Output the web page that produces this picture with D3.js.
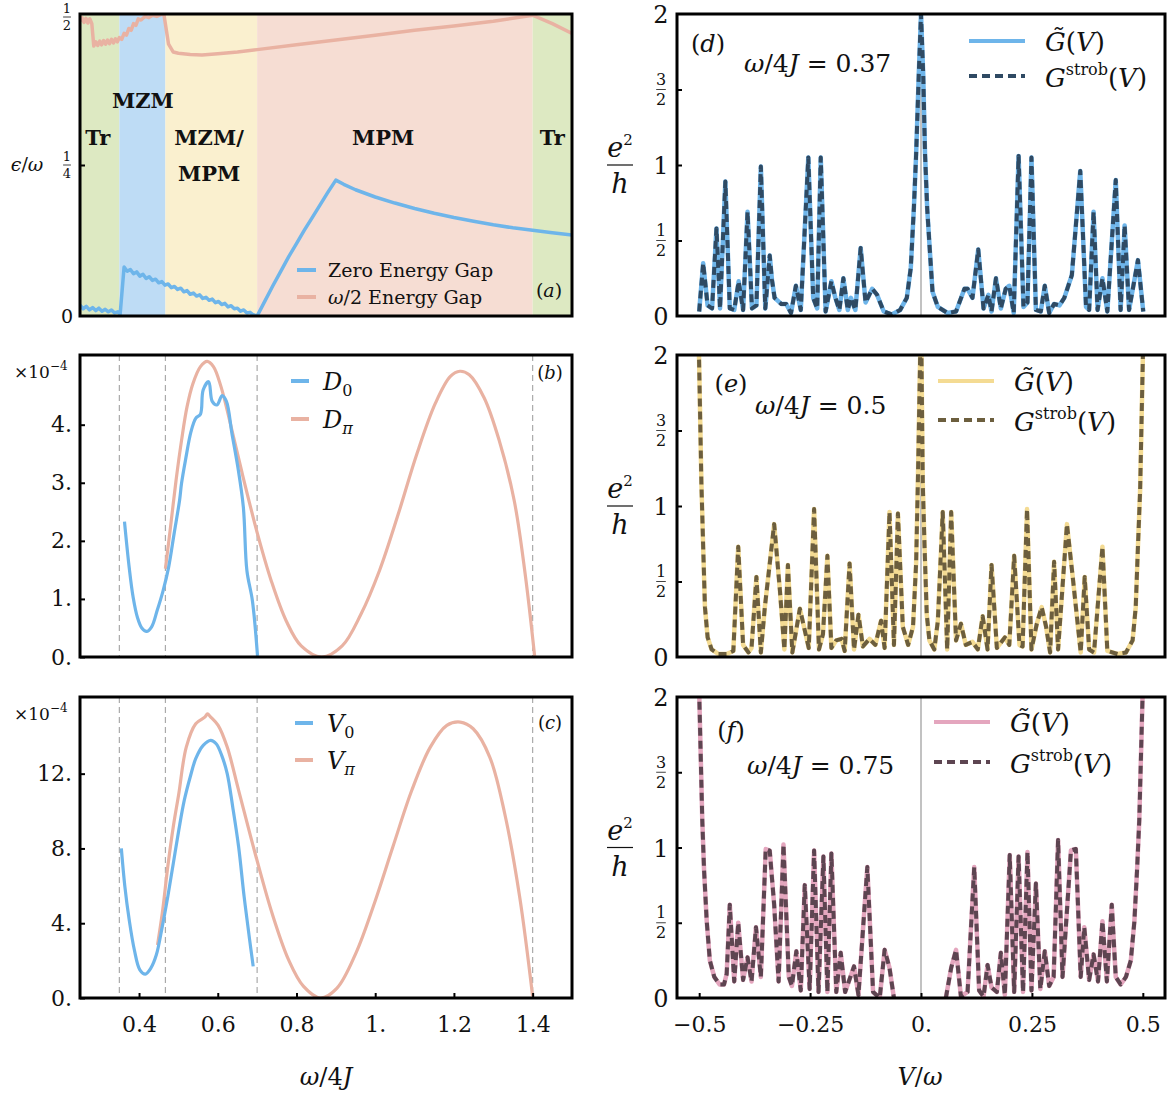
<!DOCTYPE html>
<html>
<head>
<meta charset="utf-8">
<script src="https://cdn.jsdelivr.net/npm/d3@7"></script>
<style>
  body { margin: 0; background: #fff; }
  svg { display: block; }
  text { font-family: "DejaVu Serif", serif; fill: #111; white-space: pre; }
</style>
</head>
<body>
<div id="chart"></div>
<script>
// ---- (a) phase diagram ----
const phaseEdges = [0.25, 0.35, 0.467, 0.7, 1.4, 1.5];
const phaseLabels = [["Tr"], ["MZM"], ["MZM/", "MPM"], ["MPM"], ["Tr"]];
const phaseLabelX = [0.295, 0.41, 0.578, 1.02, 1.45];
const phaseLabelY = [0.296, 0.358, 0.296, 0.296, 0.296];

const zeroGapX = [0.25, 0.258, 0.266, 0.274, 0.282, 0.29, 0.298, 0.306, 0.314, 0.322, 0.33, 0.338, 0.346, 0.352,
  0.362, 0.37, 0.378, 0.386, 0.394, 0.402, 0.41, 0.418, 0.426, 0.434, 0.442, 0.45, 0.458, 0.466, 0.474, 0.482,
  0.49, 0.498, 0.506, 0.514, 0.522, 0.53, 0.538, 0.546, 0.554, 0.562, 0.57, 0.578, 0.586, 0.594, 0.602, 0.61,
  0.618, 0.626, 0.634, 0.642, 0.65, 0.658, 0.666, 0.674, 0.682, 0.69, 0.7,
  0.72, 0.74, 0.76, 0.78, 0.8, 0.82, 0.84, 0.86, 0.88, 0.9, 0.92, 0.95, 1.0, 1.05, 1.1, 1.15, 1.2, 1.25, 1.3,
  1.35, 1.4, 1.45, 1.5];
const zeroGapY = [0.018, 0.012, 0.016, 0.01, 0.014, 0.009, 0.013, 0.008, 0.011, 0.007, 0.01, 0.005, 0.007, 0.003,
  0.081, 0.074, 0.077, 0.07, 0.073, 0.066, 0.069, 0.062, 0.065, 0.059, 0.061, 0.055, 0.057, 0.051, 0.053, 0.047,
  0.049, 0.044, 0.046, 0.04, 0.042, 0.036, 0.038, 0.033, 0.035, 0.029, 0.031, 0.026, 0.028, 0.022, 0.024, 0.019,
  0.021, 0.015, 0.017, 0.012, 0.013, 0.008, 0.01, 0.005, 0.006, 0.002, 0.0,
  0.025, 0.05, 0.074, 0.098, 0.12, 0.142, 0.163, 0.184, 0.205, 0.225, 0.218, 0.209, 0.197, 0.187, 0.178, 0.17,
  0.163, 0.157, 0.151, 0.146, 0.142, 0.138, 0.134];

const halfGapX = [0.25, 0.255, 0.26, 0.265, 0.27, 0.275, 0.28, 0.285, 0.29, 0.295, 0.3, 0.305, 0.31, 0.315, 0.32,
  0.325, 0.33, 0.335, 0.34, 0.345, 0.35, 0.356, 0.362, 0.368, 0.374, 0.38, 0.386, 0.392, 0.398, 0.405, 0.415,
  0.425, 0.435, 0.445, 0.455, 0.463, 0.475, 0.487, 0.5, 0.53, 0.56, 0.6, 0.65, 0.7, 0.8, 0.9, 1.0, 1.1, 1.2,
  1.3, 1.4, 1.45, 1.5];
const halfGapY = [0.488, 0.494, 0.486, 0.493, 0.485, 0.492, 0.484, 0.447, 0.454, 0.448, 0.455, 0.449, 0.456, 0.45,
  0.457, 0.451, 0.458, 0.452, 0.459, 0.454, 0.461, 0.458, 0.468, 0.465, 0.476, 0.473, 0.484, 0.481, 0.492, 0.49,
  0.496, 0.494, 0.498, 0.496, 0.499, 0.5, 0.45, 0.437, 0.435, 0.433, 0.432, 0.434, 0.437, 0.441, 0.449, 0.457,
  0.465, 0.473, 0.48, 0.488, 0.498, 0.484, 0.468];

// ---- (b) D0 / Dpi (x1e-4) ----
const d0X = [0.363, 0.375, 0.385, 0.396, 0.407, 0.419, 0.432, 0.446, 0.461, 0.475, 0.489, 0.503, 0.508, 0.518,
  0.532, 0.544, 0.556, 0.563, 0.577, 0.586, 0.598, 0.611, 0.622, 0.636, 0.651, 0.665, 0.674, 0.688, 0.701];
const d0Y = [2.33, 1.54, 1.03, 0.68, 0.5, 0.44, 0.52, 0.8, 1.14, 1.54, 2.12, 2.7, 2.99, 3.39,
  3.88, 4.11, 4.18, 4.6, 4.74, 4.4, 4.34, 4.5, 4.4, 3.85, 3.27, 2.58, 1.49, 0.97, 0.02];
const dPiX = [0.467, 0.48, 0.494, 0.508, 0.522, 0.537, 0.556, 0.573, 0.589, 0.608, 0.632, 0.66, 0.701, 0.736,
  0.774, 0.812, 0.864, 0.916, 0.964, 1.011, 1.059, 1.106, 1.153, 1.191, 1.215, 1.239, 1.277, 1.315, 1.353,
  1.381, 1.405];
const dPiY = [1.52, 2.24, 3.04, 3.73, 4.31, 4.71, 5.0, 5.09, 5.0, 4.66, 4.02, 3.22, 2.12, 1.31,
  0.62, 0.19, 0.0, 0.19, 0.74, 1.49, 2.47, 3.5, 4.37, 4.83, 4.92, 4.86, 4.46, 3.73, 2.7,
  1.43, 0.02];

// ---- (c) V0 / Vpi (x1e-4) ----
const v0X = [0.355, 0.364, 0.375, 0.388, 0.402, 0.416, 0.43, 0.444, 0.459, 0.473, 0.487, 0.501, 0.515, 0.53,
  0.544, 0.563, 0.582, 0.596, 0.61, 0.624, 0.638, 0.653, 0.667, 0.681, 0.69];
const v0Y = [8.0, 5.96, 4.18, 2.58, 1.51, 1.28, 1.6, 2.31, 3.82, 5.42, 7.2, 8.98, 10.58, 11.82,
  12.8, 13.51, 13.78, 13.6, 12.98, 12.0, 10.22, 8.09, 5.42, 3.11, 1.69];
const vPiX = [0.447, 0.459, 0.473, 0.487, 0.501, 0.52, 0.544, 0.567, 0.574, 0.581, 0.601, 0.624, 0.653, 0.695,
  0.738, 0.78, 0.818, 0.861, 0.903, 0.951, 0.998, 1.045, 1.093, 1.14, 1.182, 1.216, 1.249, 1.291, 1.329,
  1.367, 1.4];
const vPiY = [2.84, 4.53, 7.02, 9.16, 10.93, 13.42, 14.67, 15.02, 15.2, 15.05, 14.58, 13.42, 11.11, 7.73,
  4.53, 2.04, 0.62, 0.0, 0.53, 2.4, 5.07, 8.09, 11.11, 13.42, 14.58, 14.76, 14.4, 12.89, 9.87,
  5.42, 0.09];

const phaseLines = [0.35, 0.467, 0.7, 1.4];
const omegaTicks = [0.4, 0.6, 0.8, 1, 1.2, 1.4];
const omegaTickLabels = ["0.4", "0.6", "0.8", "1.", "1.2", "1.4"];
const dTicks = [0, 1, 2, 3, 4];
const vTicks = [0, 4, 8, 12];

// ---- (d) w/4J = 0.37 ----
const dV = [-0.5, -0.491, -0.481, -0.471, -0.461, -0.453, -0.441, -0.431, -0.421, -0.411, -0.401, -0.391, -0.381,
  -0.371, -0.361, -0.351, -0.341, -0.336, -0.33, -0.315, -0.304, -0.293, -0.282, -0.271, -0.254, -0.243, -0.234,
  -0.226, -0.215, -0.202, -0.193, -0.184, -0.175, -0.165, -0.158, -0.148, -0.136, -0.125, -0.11, -0.099, -0.084,
  -0.066, -0.047, -0.032, -0.023, -0.016, -0.011, -0.005, 0, 0.005, 0.009, 0.014, 0.02, 0.026, 0.038, 0.06,
  0.079, 0.098, 0.105, 0.116, 0.129, 0.141, 0.152, 0.159, 0.169, 0.18, 0.191, 0.199, 0.209, 0.22, 0.231, 0.24,
  0.249, 0.259, 0.27, 0.279, 0.289, 0.3, 0.312, 0.323, 0.332, 0.34, 0.359, 0.372, 0.379, 0.389, 0.398, 0.409,
  0.42, 0.439, 0.45, 0.459, 0.469, 0.489, 0.501];
const dG = [0.03, 0.35, 0.07, 0.05, 0.58, 0.05, 0.89, 0.05, 0.04, 0.23, 0.04, 0.69, 0.05,
  0.07, 0.99, 0.05, 0.4, 0.24, 0.12, 0.08, 0.08, 0.02, 0.2, 0.04, 1.05, 0.12, 0.05,
  1.05, 0.03, 0.23, 0.12, 0.04, 0.25, 0.04, 0.12, 0.04, 0.45, 0.09, 0.18, 0.14, 0.03,
  0.01, 0.04, 0.12, 0.32, 0.72, 1.07, 1.6, 2.0, 1.6, 1.08, 0.71, 0.43, 0.16, 0.06, 0.02,
  0.03, 0.18, 0.18, 0.12, 0.44, 0.05, 0.14, 0.03, 0.25, 0.05, 0.18, 0.2, 0.02, 1.06, 0.06, 0.09,
  1.05, 0.04, 0.03, 0.2, 0.02, 0.08, 0.07, 0.12, 0.2, 0.27, 0.96, 0.06, 0.04, 0.69, 0.04, 0.25,
  0.03, 0.9, 0.04, 0.6, 0.04, 0.37, 0.03];

// ---- (e) w/4J = 0.5 ----
const eV = [-0.503, -0.495, -0.491, -0.487, -0.481, -0.472, -0.457, -0.438, -0.423, -0.412, -0.401, -0.389, -0.382,
  -0.371, -0.361, -0.352, -0.331, -0.318, -0.308, -0.3, -0.29, -0.273, -0.253, -0.241, -0.23, -0.221, -0.211,
  -0.202, -0.191, -0.179, -0.172, -0.161, -0.151, -0.141, -0.131, -0.116, -0.103, -0.09, -0.082, -0.071, -0.061,
  -0.052, -0.041, -0.029, -0.018, -0.011, -0.007, 0, 0.004, 0.008, 0.013, 0.019, 0.03, 0.038, 0.049, 0.059,
  0.068, 0.079, 0.09, 0.101, 0.116, 0.128, 0.139, 0.15, 0.159, 0.171, 0.189, 0.199, 0.21, 0.222, 0.229, 0.239,
  0.249, 0.261, 0.272, 0.282, 0.291, 0.3, 0.309, 0.329, 0.342, 0.36, 0.369, 0.379, 0.39, 0.409, 0.42, 0.443,
  0.462, 0.477, 0.484, 0.489, 0.494, 0.503];
const eG = [2.4, 1.15, 0.73, 0.33, 0.13, 0.05, 0.02, 0.02, 0.04, 0.73, 0.08, 0.03, 0.06,
  0.53, 0.03, 0.33, 0.88, 0.44, 0.05, 0.61, 0.03, 0.32, 0.06, 0.98, 0.05, 0.15, 0.67,
  0.06, 0.11, 0.12, 0.04, 0.62, 0.05, 0.28, 0.07, 0.12, 0.08, 0.24, 0.06, 0.96, 0.08,
  0.95, 0.2, 0.08, 0.2, 0.62, 1.17, 2.3, 1.15, 0.73, 0.28, 0.11, 0.05, 0.24, 0.96, 0.05,
  0.96, 0.11, 0.22, 0.08, 0.1, 0.05, 0.27, 0.05, 0.61, 0.06, 0.13, 0.08, 0.67, 0.08, 0.07, 0.98,
  0.05, 0.22, 0.33, 0.2, 0.03, 0.63, 0.05, 0.88, 0.53, 0.03, 0.53, 0.05, 0.03, 0.73, 0.04, 0.02,
  0.03, 0.11, 0.33, 0.73, 1.11, 2.4];

// ---- (f) w/4J = 0.75 (null = below the axis) ----
const fV = [-0.503, -0.493, -0.489, -0.483, -0.476, -0.466, -0.454, -0.444, -0.438, -0.431, -0.421, -0.412, -0.401,
  -0.391, -0.382, -0.372, -0.361, -0.35, -0.341, -0.331, -0.321, -0.31, -0.298, -0.291, -0.281, -0.271, -0.262,
  -0.251, -0.241, -0.231, -0.22, -0.211, -0.202, -0.191, -0.181, -0.171, -0.151, -0.141, -0.121, -0.108, -0.093,
  -0.082, -0.071, -0.061, 0, 0.056, 0.068, 0.079, 0.09, 0.105, 0.12, 0.131, 0.141, 0.15, 0.159, 0.171, 0.18,
  0.189, 0.2, 0.21, 0.22, 0.23, 0.24, 0.249, 0.259, 0.269, 0.279, 0.289, 0.299, 0.309, 0.319, 0.338, 0.349,
  0.36, 0.368, 0.379, 0.389, 0.399, 0.409, 0.419, 0.43, 0.439, 0.45, 0.462, 0.473, 0.481, 0.487, 0.492, 0.503];
const fG = [2.4, 1.18, 0.85, 0.51, 0.25, 0.14, 0.09, 0.09, 0.16, 0.62, 0.11, 0.5, 0.12,
  0.27, 0.11, 0.47, 0.14, 0.99, 0.98, 0.62, 0.11, 1.02, 0.14, 0.08, 0.31, 0.05, 0.75,
  0.06, 0.98, 0.04, 0.94, 0.04, 0.96, 0.04, 0.3, 0.04, 0.21, 0.02, 0.87, 0.04, 0.0,
  0.32, 0.2, 0.0, null, 0.0, 0.2, 0.32, 0.01, 0.04, 0.87, 0.05, 0.01, 0.22, 0.07, 0.04, 0.3,
  0.02, 0.95, 0.04, 0.94, 0.04, 0.97, 0.05, 0.76, 0.06, 0.31, 0.08, 0.14, 1.05, 0.14, 0.98, 0.99,
  0.14, 0.47, 0.12, 0.29, 0.11, 0.51, 0.11, 0.62, 0.14, 0.09, 0.14, 0.25, 0.51, 0.85, 1.18, 2.4];

const biasTicks = [-0.5, -0.25, 0, 0.25, 0.5];
const biasTickLabels = ["\u22120.5", "\u22120.25", "0.", "0.25", "0.5"];
const condTicks = [0.5, 1, 1.5];

// ---- layout ----
const W = 1172, H = 1098;
const leftCol = [80, 572], rightCol = [677, 1165];
const rows = [[14, 316], [355, 657], [697, 998]];

const phaseFill = ["#dde9c2", "#bedcf5", "#faf0cf", "#f6ddd3", "#dde9c2"];
const blue = "#6eb5ea", salmon = "#e9b2a2";
const smooth = d3.curveCatmullRom.alpha(0.5);

const svg = d3.select("#chart").append("svg").attr("width", W).attr("height", H);

function makePanel(xr, yr, xDom, yDom, id) {
  const x = d3.scaleLinear().domain(xDom).range(xr);
  const y = d3.scaleLinear().domain(yDom).range([yr[1], yr[0]]);
  svg.append("clipPath").attr("id", id).append("rect")
    .attr("x", xr[0]).attr("y", yr[0]).attr("width", xr[1] - xr[0]).attr("height", yr[1] - yr[0]);
  const g = svg.append("g");
  const plot = g.append("g").attr("clip-path", `url(#${id})`);
  return { x, y, g, plot, xr, yr };
}

function frame(p) {
  p.g.append("rect").attr("x", p.xr[0]).attr("y", p.yr[0])
    .attr("width", p.xr[1] - p.xr[0]).attr("height", p.yr[1] - p.yr[0])
    .attr("fill", "none").attr("stroke", "#000").attr("stroke-width", 3);
}

function drawLine(p, xs, ys, color, width, dash, curve) {
  const pts = d3.zip(xs, ys);
  const gen = d3.line().defined((d) => d[1] !== null).x((d) => p.x(d[0])).y((d) => p.y(d[1]));
  if (curve) gen.curve(curve);
  const path = p.plot.append("path").datum(pts)
    .attr("fill", "none").attr("stroke", color).attr("stroke-width", width)
    .attr("stroke-linejoin", "round")
    .attr("d", gen);
  if (dash) path.attr("stroke-dasharray", dash);
  return path;
}

// text made of pieces, italic where i is set
function mathText(g, x, y, parts, size, anchor) {
  const t = g.append("text").attr("x", x).attr("y", y).attr("font-size", size)
    .attr("text-anchor", anchor || "start");
  parts.forEach((p) => {
    const s = t.append("tspan").text(p.t);
    if (p.i) s.attr("font-style", "italic");
    if (p.dy) s.attr("dy", p.dy);
    if (p.fs) s.attr("font-size", p.fs);
  });
  return t;
}

// stacked fraction centred on (cx, cy)
function fraction(g, cx, cy, num, den, size) {
  g.append("text").attr("x", cx).attr("y", cy - size * 0.27).attr("font-size", size).attr("text-anchor", "middle").text(num);
  g.append("line").attr("x1", cx - size * 0.3).attr("x2", cx + size * 0.3).attr("y1", cy).attr("y2", cy)
    .attr("stroke", "#111").attr("stroke-width", 0.8);
  g.append("text").attr("x", cx).attr("y", cy + size * 0.98).attr("font-size", size).attr("text-anchor", "middle").text(den);
}

function inwardTicks(p, axis, transform) {
  const ax = p.g.append("g").attr("transform", transform).call(axis);
  ax.select(".domain").remove();
  ax.selectAll(".tick line").attr("stroke", "#000").attr("stroke-width", 2);
  ax.selectAll(".tick text").attr("font-family", "DejaVu Serif").attr("font-size", 22).attr("fill", "#222");
  return ax;
}

// ================= (a) =================
const pa = makePanel(leftCol, rows[0], [0.25, 1.5], [0, 0.5], "clipA");
pa.plot.selectAll("rect.phase").data(d3.pairs(phaseEdges)).join("rect")
  .attr("class", "phase")
  .attr("x", (d) => pa.x(d[0])).attr("width", (d) => pa.x(d[1]) - pa.x(d[0]))
  .attr("y", pa.yr[0]).attr("height", pa.yr[1] - pa.yr[0])
  .attr("fill", (d, i) => phaseFill[i]);
drawLine(pa, halfGapX, halfGapY, salmon, 3.5);
drawLine(pa, zeroGapX, zeroGapY, blue, 3.5);
phaseLabels.forEach((lines, i) => {
  lines.forEach((s, j) => {
    pa.g.append("text").attr("x", pa.x(phaseLabelX[i])).attr("y", pa.y(phaseLabelY[i]) + 8 + j * 36)
      .attr("text-anchor", "middle").attr("font-weight", "bold").attr("font-size", 21).text(s);
  });
});
inwardTicks(pa, d3.axisLeft(pa.y).tickValues([0.25]).tickSize(-5).tickFormat(() => ""), `translate(${pa.xr[0]},0)`);
fraction(pa.g, 67, pa.y(0.5) + 3, "1", "2", 13);
fraction(pa.g, 67, pa.y(0.25), "1", "4", 13);
pa.g.append("text").attr("x", 67).attr("y", pa.y(0) + 7).attr("font-size", 19).attr("text-anchor", "middle").text("0");
mathText(pa.g, 27, pa.y(0.25) + 6, [{ t: "\u03f5", i: 1 }, { t: "/" }, { t: "\u03c9", i: 1 }], 19, "middle");
// legend
[["Zero Energy Gap", blue], ["\u03c9/2 Energy Gap", salmon]].forEach((d, i) => {
  const yy = 270 + i * 27;
  pa.g.append("line").attr("x1", 297).attr("x2", 316).attr("y1", yy).attr("y2", yy)
    .attr("stroke", d[1]).attr("stroke-width", 4);
});
pa.g.append("text").attr("x", 328).attr("y", 277).attr("font-size", 19).text("Zero Energy Gap");
mathText(pa.g, 328, 304, [{ t: "\u03c9", i: 1 }, { t: "/2 Energy Gap" }], 19);
mathText(pa.g, 549, 297, [{ t: "(" }, { t: "a", i: 1 }, { t: ")" }], 19, "middle");
frame(pa);

// ================= (b) =================
const pb = makePanel(leftCol, rows[1], [0.25, 1.5], [0, 5.2], "clipB");
pb.plot.selectAll("line.phase").data(phaseLines).join("line").attr("class", "phase")
  .attr("x1", (d) => pb.x(d)).attr("x2", (d) => pb.x(d)).attr("y1", pb.yr[0]).attr("y2", pb.yr[1])
  .attr("stroke", "#aaa").attr("stroke-width", 1.2).attr("stroke-dasharray", "6,4");
drawLine(pb, dPiX, dPiY, salmon, 3.2, null, smooth);
drawLine(pb, d0X, d0Y, blue, 3.2, null, smooth);
inwardTicks(pb, d3.axisLeft(pb.y).tickValues(dTicks).tickSize(-5).tickPadding(8).tickFormat((d) => d + "."),
  `translate(${pb.xr[0]},0)`);
mathText(pb.g, 14, 378, [{ t: "\u00d710" }, { t: "\u22124", fs: 12, dy: -8 }], 17);
pb.g.append("line").attr("x1", 291).attr("x2", 309).attr("y1", 381).attr("y2", 381).attr("stroke", blue).attr("stroke-width", 4);
pb.g.append("line").attr("x1", 291).attr("x2", 309).attr("y1", 419).attr("y2", 419).attr("stroke", salmon).attr("stroke-width", 4);
mathText(pb.g, 323, 390, [{ t: "D", i: 1 }, { t: "0", fs: 16, dy: 6 }], 24);
mathText(pb.g, 323, 428, [{ t: "D", i: 1 }, { t: "\u03c0", i: 1, fs: 16, dy: 6 }], 24);
mathText(pb.g, 550, 379, [{ t: "(" }, { t: "b", i: 1 }, { t: ")" }], 18, "middle");
frame(pb);

// ================= (c) =================
const pc = makePanel(leftCol, rows[2], [0.25, 1.5], [0, 16.1], "clipC");
pc.plot.selectAll("line.phase").data(phaseLines).join("line").attr("class", "phase")
  .attr("x1", (d) => pc.x(d)).attr("x2", (d) => pc.x(d)).attr("y1", pc.yr[0]).attr("y2", pc.yr[1])
  .attr("stroke", "#aaa").attr("stroke-width", 1.2).attr("stroke-dasharray", "6,4");
drawLine(pc, vPiX, vPiY, salmon, 3.2, null, smooth);
drawLine(pc, v0X, v0Y, blue, 3.2, null, smooth);
inwardTicks(pc, d3.axisLeft(pc.y).tickValues(vTicks).tickSize(-5).tickPadding(8).tickFormat((d) => d + "."),
  `translate(${pc.xr[0]},0)`);
inwardTicks(pc, d3.axisBottom(pc.x).tickValues(omegaTicks).tickSize(-5).tickPadding(18)
  .tickFormat((d, i) => omegaTickLabels[i]), `translate(0,${pc.yr[1]})`);
mathText(pc.g, 14, 720, [{ t: "\u00d710" }, { t: "\u22124", fs: 12, dy: -8 }], 17);
pc.g.append("line").attr("x1", 295).attr("x2", 313).attr("y1", 723).attr("y2", 723).attr("stroke", blue).attr("stroke-width", 4);
pc.g.append("line").attr("x1", 295).attr("x2", 313).attr("y1", 760).attr("y2", 760).attr("stroke", salmon).attr("stroke-width", 4);
mathText(pc.g, 327, 732, [{ t: "V", i: 1 }, { t: "0", fs: 16, dy: 6 }], 24);
mathText(pc.g, 327, 769, [{ t: "V", i: 1 }, { t: "\u03c0", i: 1, fs: 16, dy: 6 }], 24);
mathText(pc.g, 550, 729, [{ t: "(" }, { t: "c", i: 1 }, { t: ")" }], 18, "middle");
mathText(pc.g, 326, 1085, [{ t: "\u03c9", i: 1 }, { t: "/4" }, { t: "J", i: 1 }], 24, "middle");
frame(pc);

// ================= (d), (e), (f) =================
const condPanels = [
  { V: dV, G: dG, row: 0, id: "clipD", solid: "#6eb5ea", dashed: "#2f4a63", tag: "d", omega: "0.37",
    tagPos: [708, 52], omegaPos: [744, 72], leg: [969, 41, 76] },
  { V: eV, G: eG, row: 1, id: "clipE", solid: "#f4db93", dashed: "#6c5e3e", tag: "e", omega: "0.5",
    tagPos: [731, 392], omegaPos: [755, 414], leg: [938, 381, 420] },
  { V: fV, G: fG, row: 2, id: "clipF", solid: "#e4a6be", dashed: "#5d4551", tag: "f", omega: "0.75",
    tagPos: [731, 739], omegaPos: [747, 774], leg: [934, 722, 762] },
];

condPanels.forEach((c) => {
  const p = makePanel(rightCol, rows[c.row], [-0.55, 0.55], [0, 2], c.id);
  p.plot.append("line").attr("x1", p.x(0)).attr("x2", p.x(0)).attr("y1", p.yr[0]).attr("y2", p.yr[1])
    .attr("stroke", "#999").attr("stroke-width", 1.2);
  drawLine(p, c.V, c.G, c.solid, 4.5);
  drawLine(p, c.V, c.G, c.dashed, 4, "8,5");
  inwardTicks(p, d3.axisLeft(p.y).tickValues(condTicks).tickSize(-5).tickFormat(() => ""), `translate(${p.xr[0]},0)`);
  p.g.append("text").attr("x", 661).attr("y", p.y(2) + 9).attr("font-size", 24).attr("text-anchor", "middle").text("2");
  p.g.append("text").attr("x", 661).attr("y", p.y(1) + 9).attr("font-size", 24).attr("text-anchor", "middle").text("1");
  p.g.append("text").attr("x", 661).attr("y", p.y(0) + 9).attr("font-size", 24).attr("text-anchor", "middle").text("0");
  fraction(p.g, 661, p.y(1.5), "3", "2", 16);
  fraction(p.g, 661, p.y(0.5), "1", "2", 16);
  // e^2/h
  const cy = p.y(1);
  mathText(p.g, 620, cy - 8, [{ t: "e", i: 1 }, { t: "2", fs: 15, dy: -12 }], 27, "middle");
  p.g.append("line").attr("x1", 607).attr("x2", 633).attr("y1", cy).attr("y2", cy).attr("stroke", "#111").attr("stroke-width", 1.2);
  mathText(p.g, 620, cy + 28, [{ t: "h", i: 1 }], 27, "middle");
  // annotations
  mathText(p.g, c.tagPos[0], c.tagPos[1], [{ t: "(" }, { t: c.tag, i: 1 }, { t: ")" }], 24, "middle");
  mathText(p.g, c.omegaPos[0], c.omegaPos[1],
    [{ t: "\u03c9", i: 1 }, { t: "/4" }, { t: "J", i: 1 }, { t: " = " + c.omega }], 25);
  const lx = c.leg[0];
  p.g.append("line").attr("x1", lx).attr("x2", lx + 56).attr("y1", c.leg[1]).attr("y2", c.leg[1])
    .attr("stroke", c.solid).attr("stroke-width", 4);
  p.g.append("line").attr("x1", lx).attr("x2", lx + 56).attr("y1", c.leg[2]).attr("y2", c.leg[2])
    .attr("stroke", c.dashed).attr("stroke-width", 4).attr("stroke-dasharray", "8,5");
  const tx = lx + 76;
  mathText(p.g, tx, c.leg[1] + 10, [{ t: "G\u0303", i: 1 }, { t: "(" }, { t: "V", i: 1 }, { t: ")" }], 26);
  mathText(p.g, tx, c.leg[2] + 11,
    [{ t: "G", i: 1 }, { t: "strob", fs: 16, dy: -12 }, { t: "(", dy: 12 }, { t: "V", i: 1 }, { t: ")" }], 26);
  if (c.row === 2) {
    inwardTicks(p, d3.axisBottom(p.x).tickValues(biasTicks).tickSize(-5).tickPadding(18)
      .tickFormat((d, i) => biasTickLabels[i]), `translate(0,${p.yr[1]})`);
    mathText(p.g, 920, 1085, [{ t: "V", i: 1 }, { t: "/" }, { t: "\u03c9", i: 1 }], 24, "middle");
  }
  frame(p);
});
</script>
</body>
</html>
